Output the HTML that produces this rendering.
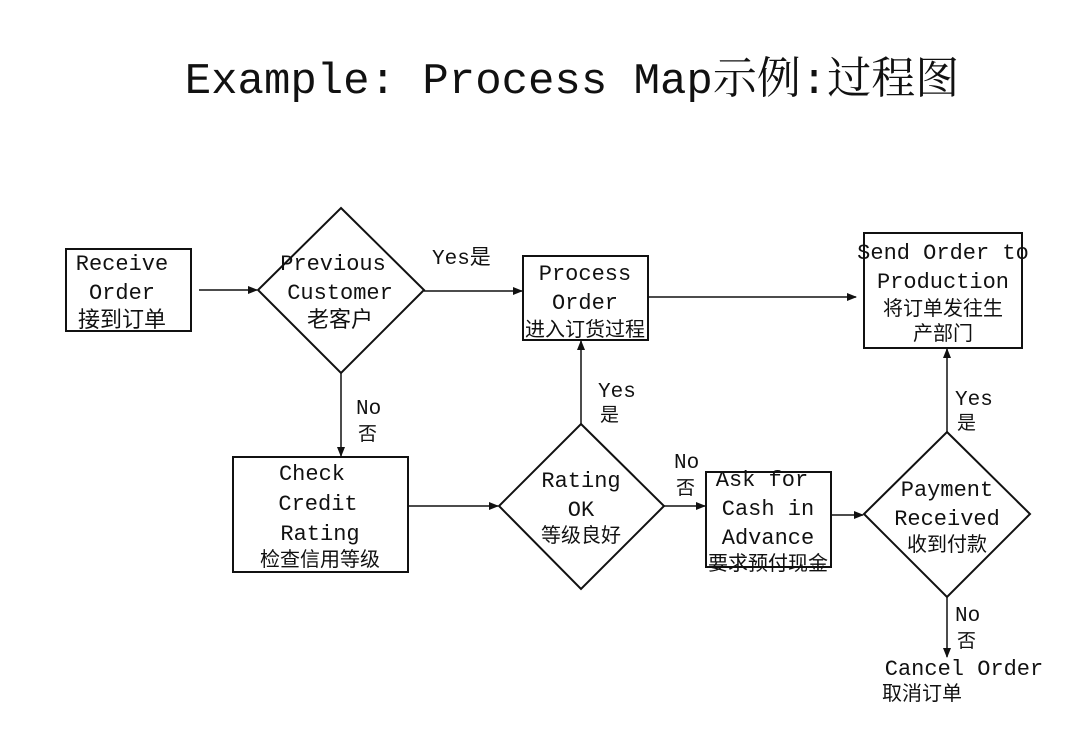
<!DOCTYPE html>
<html><head><meta charset="utf-8"><style>
body{margin:0;background:#fff;}
svg text{font-family:"Liberation Mono","Noto Sans CJK SC",monospace;fill:#111;}
</style></head><body>
<svg width="1080" height="747" viewBox="0 0 1080 747" xmlns="http://www.w3.org/2000/svg">
<defs><marker id="a" markerWidth="10" markerHeight="8" refX="9" refY="4" orient="auto" markerUnits="userSpaceOnUse"><path d="M0,0 L10,4 L0,8 Z" fill="#111"/></marker></defs>
<text x="572" y="93" font-size="44" text-anchor="middle" style="font-family:'Liberation Mono','Noto Serif CJK SC',monospace">Example: Process Map示例:过程图</text>
<g fill="none" stroke="#111" stroke-width="2">
<rect x="66" y="249" width="125" height="82"/>
<rect x="523" y="256" width="125" height="84"/>
<rect x="864" y="233" width="158" height="115"/>
<rect x="233" y="457" width="175" height="115"/>
<rect x="706" y="472" width="125" height="95"/>
<polygon points="341,208 424,290 341,373 258,290"/>
<polygon points="581,424 664,506 581,589 499,506"/>
<polygon points="947,432 1030,514 947,597 864,514"/>
</g>
<g stroke="#111" stroke-width="1.5" marker-end="url(#a)">
<line x1="199" y1="290" x2="257" y2="290"/>
<line x1="424" y1="291" x2="522" y2="291"/>
<line x1="648" y1="297" x2="856" y2="297"/>
<line x1="341" y1="373" x2="341" y2="456"/>
<line x1="408" y1="506" x2="498" y2="506"/>
<line x1="581" y1="424" x2="581" y2="341"/>
<line x1="664" y1="506" x2="705" y2="506"/>
<line x1="831" y1="515" x2="863" y2="515"/>
<line x1="947" y1="432" x2="947" y2="349"/>
<line x1="947" y1="597" x2="947" y2="657"/>
</g>
<g font-size="22" text-anchor="middle">
<text x="122" y="270">Receive</text><text x="122" y="299">Order</text><text x="122" y="327">接到订单</text>
<text x="333" y="270">Previous</text><text x="340" y="299">Customer</text><text x="340" y="327">老客户</text>
<text x="585" y="280">Process</text><text x="585" y="309">Order</text><text x="585" y="336" font-size="20">进入订货过程</text>
<text x="943" y="259">Send Order to</text><text x="943" y="288">Production</text><text x="943" y="315" font-size="20">将订单发往生</text><text x="943" y="340" font-size="20">产部门</text>
<text x="312" y="480">Check</text><text x="318" y="510">Credit</text><text x="320" y="540">Rating</text><text x="320" y="566" font-size="20">检查信用等级</text>
<text x="581" y="487">Rating</text><text x="581" y="516">OK</text><text x="581" y="542" font-size="20">等级良好</text>
<text x="762" y="486">Ask for</text><text x="768" y="515">Cash in</text><text x="768" y="544">Advance</text><text x="768" y="570" font-size="20">要求预付现金</text>
<text x="947" y="496">Payment</text><text x="947" y="525">Received</text><text x="947" y="551" font-size="20">收到付款</text>
<text x="964" y="675">Cancel Order</text>
</g>
<g font-size="21">
<text x="432" y="264">Yes是</text>
<text x="356" y="414">No</text><text x="358" y="440" font-size="19">否</text>
<text x="598" y="397">Yes</text><text x="600" y="421" font-size="19">是</text>
<text x="674" y="468">No</text><text x="676" y="494" font-size="19">否</text>
<text x="955" y="405">Yes</text><text x="957" y="429" font-size="19">是</text>
<text x="955" y="621">No</text><text x="957" y="647" font-size="19">否</text>
<text x="882" y="700" font-size="20">取消订单</text>
</g>
</svg>
</body></html>
